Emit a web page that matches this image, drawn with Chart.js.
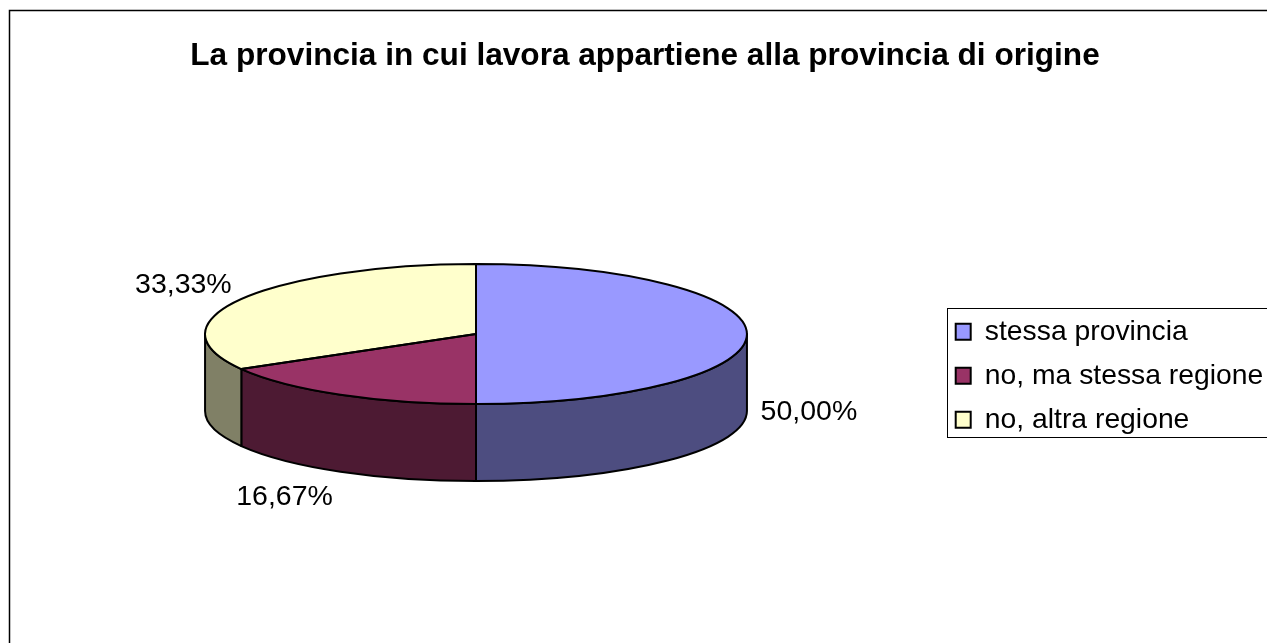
<!DOCTYPE html>
<html>
<head>
<meta charset="utf-8">
<style>html,body{margin:0;padding:0;background:#fff;overflow:hidden}canvas{display:block}</style>
<script src="https://cdn.jsdelivr.net/npm/chart.js@4/dist/chart.umd.min.js"></script>
</head>
<body>
<canvas id="c" width="1267" height="643"></canvas>
<script>
const titleText = 'La provincia in cui lavora appartiene alla provincia di origine';
const categories = ['stessa provincia', 'no, ma stessa regione', 'no, altra regione'];
const values = [50.00, 16.67, 33.33];
const topColors = ['#9999FF', '#993366', '#FFFFCC'];
const sideColors = ['#4D4D80', '#4D1A33', '#808066'];
const labelOffsets = [[62, 78], [-56, 102], [-58, -14]];

const RY = 70, DEPTH = 77, FONT = 'Liberation Sans, Arial, sans-serif';

const pie3d = {
  id: 'pie3d',
  afterLayout(chart) {
    const t = chart.titleBlock;
    t.left = 100; t.right = 1190; t.top += 12; t.bottom += 12; t.width = 1090;
    const l = chart.legend;
    l.left = 940; l.right = 1267; l.top = 302; l.bottom = 470; l.width = 327; l.height = 168;
  },
  beforeDraw(chart) {
    const ctx = chart.ctx;
    ctx.save();
    ctx.strokeStyle = '#000'; ctx.lineWidth = 1.5;
    ctx.strokeRect(9.5, 10.5, 1400, 800);
    ctx.lineWidth = 1;
    ctx.strokeRect(947.5, 308.5, 400, 129);
    ctx.restore();
  },
  beforeDatasetsDraw(chart) {
    const ctx = chart.ctx, arcs = chart.getDatasetMeta(0).data;
    ctx.save();
    ctx.lineWidth = 2; ctx.strokeStyle = '#000'; ctx.lineJoin = 'round';
    arcs.forEach((a, i) => {
      const p = a.getProps(['x', 'y', 'startAngle', 'endAngle', 'outerRadius'], true);
      const a0 = Math.max(p.startAngle, 0), a1 = Math.min(p.endAngle, Math.PI);
      if (a1 <= a0) return;
      ctx.beginPath();
      ctx.ellipse(p.x, p.y, p.outerRadius, RY, 0, a0, a1);
      ctx.ellipse(p.x, p.y + DEPTH, p.outerRadius, RY, 0, a1, a0, true);
      ctx.closePath();
      ctx.fillStyle = sideColors[i];
      ctx.fill(); ctx.stroke();
    });
    ctx.restore();
    const f = arcs[0];
    ctx.save();
    ctx.translate(f.x, f.y);
    ctx.scale(1, RY / f.outerRadius);
    ctx.translate(-f.x, -f.y);
  },
  afterDatasetsDraw(chart) {
    const ctx = chart.ctx, arcs = chart.getDatasetMeta(0).data;
    ctx.restore();
    ctx.save();
    ctx.lineWidth = 2; ctx.strokeStyle = '#000'; ctx.lineJoin = 'round';
    arcs.forEach(a => {
      const p = a.getProps(['x', 'y', 'startAngle', 'endAngle', 'outerRadius'], true);
      ctx.beginPath();
      ctx.moveTo(p.x, p.y);
      ctx.ellipse(p.x, p.y, p.outerRadius, RY, 0, p.startAngle, p.endAngle);
      ctx.closePath();
      ctx.stroke();
    });
    ctx.fillStyle = '#000';
    ctx.font = '28.5px ' + FONT;
    ctx.textAlign = 'center'; ctx.textBaseline = 'middle';
    arcs.forEach((a, i) => {
      const p = a.getProps(['x', 'y', 'startAngle', 'endAngle', 'outerRadius'], true);
      const m = (p.startAngle + p.endAngle) / 2;
      const x = p.x + Math.cos(m) * p.outerRadius + labelOffsets[i][0];
      const y = p.y + Math.sin(m) * RY + labelOffsets[i][1];
      ctx.fillText(values[i].toFixed(2).replace('.', ',') + '%', x, y);
    });
    ctx.restore();
  }
};

new Chart(document.getElementById('c'), {
  type: 'pie',
  data: {
    labels: categories,
    datasets: [{ data: values, backgroundColor: topColors, borderWidth: 0, borderColor: '#000' }]
  },
  options: {
    responsive: false,
    animation: false,
    layout: { padding: { left: 205, right: 520, top: 17.2, bottom: 38 } },
    plugins: {
      tooltip: { enabled: false },
      title: {
        display: true, text: titleText, color: '#000',
        font: { family: FONT, size: 31.6, weight: 'bold', lineHeight: 1.2 },
        padding: { top: 8, bottom: 0 }
      },
      legend: {
        position: 'chartArea', align: 'start',
        labels: {
          color: '#000', boxWidth: 15, boxHeight: 16, padding: 15.7,
          font: { family: FONT, size: 28.3 },
          generateLabels(chart) {
            return Chart.overrides.pie.plugins.legend.labels.generateLabels(chart).map(it => ({
              ...it, strokeStyle: '#000', lineWidth: 2
            }));
          }
        }
      }
    }
  },
  plugins: [pie3d]
});
</script>
</body>
</html>
